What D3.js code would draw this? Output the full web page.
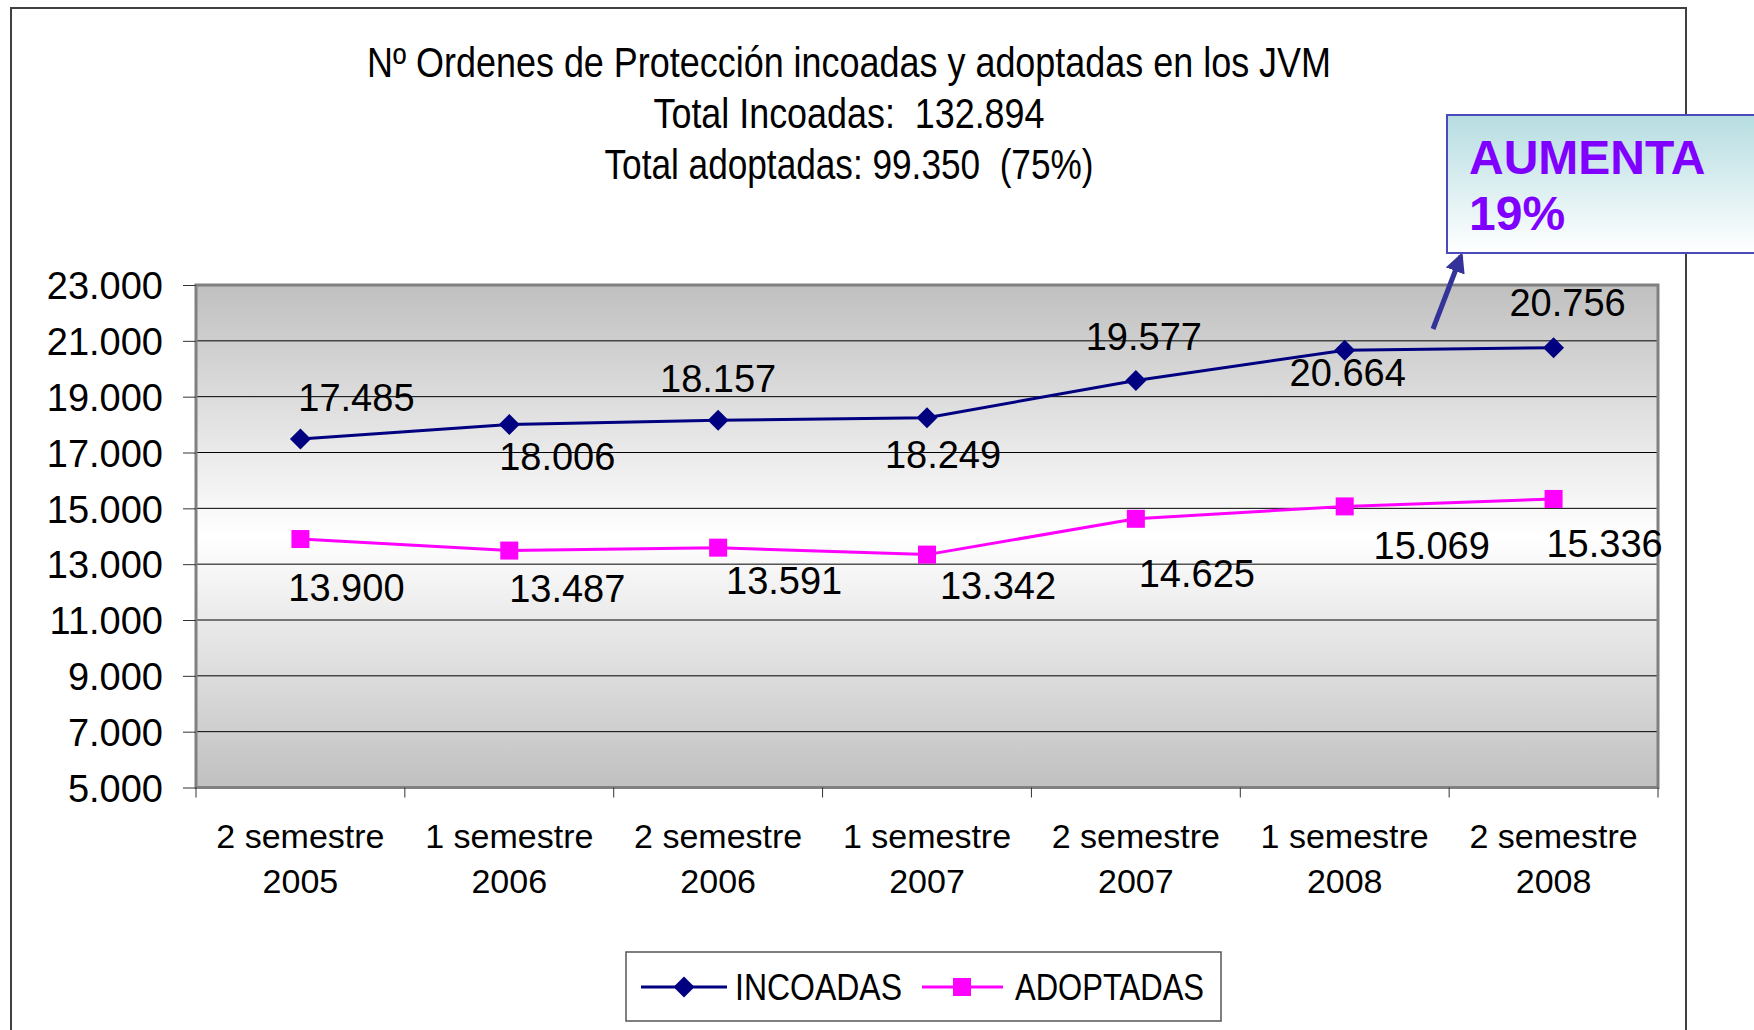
<!DOCTYPE html>
<html>
<head>
<meta charset="utf-8">
<script src="https://cdnjs.cloudflare.com/ajax/libs/d3/7.8.5/d3.min.js"></script>
<style>
  body { margin: 0; background: #fff; overflow: hidden; }
  text { font-family: "Liberation Sans", Arial, sans-serif; }
  .narrow { font-family: "Liberation Sans Narrow", "Arial Narrow", "Liberation Sans", sans-serif; white-space: pre; }
</style>
</head>
<body>
<div id="chart"></div>
<script>
// Chart data
var semesters = ["2 semestre", "1 semestre", "2 semestre", "1 semestre", "2 semestre", "1 semestre", "2 semestre"];
var years = ["2005", "2006", "2006", "2007", "2007", "2008", "2008"];
var incoadas = [17485, 18006, 18157, 18249, 19577, 20664, 20756];
var adoptadas = [13900, 13487, 13591, 13342, 14625, 15069, 15336];
var yTicks = [5000, 7000, 9000, 11000, 13000, 15000, 17000, 19000, 21000, 23000];
var titleLines = [
  "Nº Ordenes de Protección incoadas y adoptadas en los JVM",
  "Total Incoadas:  132.894",
  "Total adoptadas: 99.350  (75%)"
];

var W = 1754, H = 1030;
var plot = { left: 196, right: 1658, top: 285, bottom: 787.5 };

// spanish number format 23.000
var es = d3.formatLocale({ decimal: ",", thousands: ".", grouping: [3], currency: ["", "€"] });
var fmt = es.format(",");

var svg = d3.select("#chart").append("svg")
  .attr("width", W)
  .attr("height", H);

var defs = svg.append("defs");
var bg = defs.append("linearGradient").attr("id", "plotBg")
  .attr("x1", 0).attr("y1", 0).attr("x2", 0).attr("y2", 1);
bg.append("stop").attr("offset", "0%").attr("stop-color", "#c0c0c0");
bg.append("stop").attr("offset", "50%").attr("stop-color", "#ffffff");
bg.append("stop").attr("offset", "100%").attr("stop-color", "#c0c0c0");

var boxBg = defs.append("linearGradient").attr("id", "boxBg")
  .attr("x1", 0).attr("y1", 0).attr("x2", 0).attr("y2", 1);
boxBg.append("stop").attr("offset", "0%").attr("stop-color", "#b6dde1");
boxBg.append("stop").attr("offset", "100%").attr("stop-color", "#ffffff");

defs.append("marker").attr("id", "arrowHead")
  .attr("viewBox", "0 0 10 10").attr("refX", 8).attr("refY", 5)
  .attr("markerWidth", 4).attr("markerHeight", 4)
  .attr("orient", "auto")
  .append("path").attr("d", "M0,0 L10,5 L0,10 z").attr("fill", "#333399");

// chart frame
svg.append("rect")
  .attr("x", 11).attr("y", 8)
  .attr("width", 1675).attr("height", 1100)
  .attr("fill", "none").attr("stroke", "#404040").attr("stroke-width", 2);

// title
svg.append("g").selectAll("text")
  .data(titleLines)
  .enter().append("text")
  .attr("class", "narrow")
  .attr("x", 849)
  .attr("y", (d, i) => 62 + i * 51)
  .attr("text-anchor", "middle")
  .attr("dominant-baseline", "central")
  .attr("font-size", 42)
  .attr("textLength", (d, i) => [964, 391, 489][i])
  .attr("lengthAdjust", "spacingAndGlyphs")
  .text(d => d);

// scales
var x = d3.scaleBand()
  .domain(d3.range(incoadas.length))
  .range([plot.left, plot.right]);
var y = d3.scaleLinear()
  .domain([5000, 23000])
  .range([plot.bottom, plot.top]);
var cx = i => x(i) + x.bandwidth() / 2;

// plot background
svg.append("rect")
  .attr("x", plot.left).attr("y", plot.top)
  .attr("width", plot.right - plot.left).attr("height", plot.bottom - plot.top)
  .attr("fill", "url(#plotBg)");

// gridlines
svg.append("g").selectAll("line")
  .data(yTicks.slice(1, -1))
  .enter().append("line")
  .attr("x1", plot.left).attr("x2", plot.right)
  .attr("y1", d => y(d)).attr("y2", d => y(d))
  .attr("stroke", "#000").attr("stroke-width", 1);

// plot border
svg.append("rect")
  .attr("x", plot.left).attr("y", plot.top)
  .attr("width", plot.right - plot.left).attr("height", plot.bottom - plot.top)
  .attr("fill", "none").attr("stroke", "#808080").attr("stroke-width", 3);

// y axis
var yAxis = svg.append("g")
  .attr("transform", "translate(" + plot.left + ",0)")
  .call(d3.axisLeft(y).tickValues(yTicks).tickFormat(fmt).tickSize(13).tickPadding(20));
yAxis.select(".domain").remove();
yAxis.selectAll("line").attr("stroke", "#333");
yAxis.selectAll("text")
  .attr("font-size", 38)
  .attr("fill", "#000")
  .attr("font-family", "Liberation Sans, Arial, sans-serif")
  .attr("dy", "0.36em");

// x axis ticks at band edges
svg.append("g").selectAll("line")
  .data(d3.range(incoadas.length + 1))
  .enter().append("line")
  .attr("x1", i => plot.left + i * x.step())
  .attr("x2", i => plot.left + i * x.step())
  .attr("y1", plot.bottom).attr("y2", plot.bottom + 10)
  .attr("stroke", "#333");

var xl = svg.append("g").selectAll("text")
  .data(d3.range(incoadas.length))
  .enter().append("text")
  .attr("x", cx)
  .attr("text-anchor", "middle")
  .attr("font-size", 34);
xl.append("tspan").attr("x", cx).attr("y", 836).attr("dominant-baseline", "central").text(i => semesters[i]);
xl.append("tspan").attr("x", cx).attr("y", 881).attr("dominant-baseline", "central").text(i => years[i]);

// lines
var lineInc = d3.line().x((d, i) => cx(i)).y(d => y(d));
svg.append("path")
  .datum(incoadas)
  .attr("d", lineInc)
  .attr("fill", "none").attr("stroke", "#000080").attr("stroke-width", 3);
svg.append("path")
  .datum(adoptadas)
  .attr("d", lineInc)
  .attr("fill", "none").attr("stroke", "#ff00ff").attr("stroke-width", 3);

var diamond = "M0,-10.5 L10.5,0 L0,10.5 L-10.5,0 Z";
svg.append("g").selectAll("path")
  .data(incoadas)
  .enter().append("path")
  .attr("d", diamond)
  .attr("transform", (d, i) => "translate(" + cx(i) + "," + y(d) + ")")
  .attr("fill", "#000080");

svg.append("g").selectAll("rect")
  .data(adoptadas)
  .enter().append("rect")
  .attr("x", (d, i) => cx(i) - 9).attr("y", d => y(d) - 9)
  .attr("width", 18).attr("height", 18)
  .attr("fill", "#ff00ff");

// data labels, offsets from the point as placed in the original
var incOffsets = [[56, -41], [48, 33], [0, -41], [16, 37], [8, -44], [3, 23], [14, -45]];
var adoOffsets = [[46, 49], [58, 38], [66, 33], [71, 31], [61, 55], [87, 40], [51, 45]];

function labels(vals, offs) {
  svg.append("g").selectAll("text")
    .data(vals)
    .enter().append("text")
    .attr("x", (d, i) => cx(i) + offs[i][0])
    .attr("y", (d, i) => y(d) + offs[i][1])
    .attr("text-anchor", "middle")
    .attr("dominant-baseline", "central")
    .attr("font-size", 38)
    .text(d => fmt(d));
}
labels(incoadas, incOffsets);
labels(adoptadas, adoOffsets);

// legend
var lg = svg.append("g");
lg.append("rect")
  .attr("x", 626).attr("y", 952).attr("width", 595).attr("height", 69)
  .attr("fill", "#fff").attr("stroke", "#555").attr("stroke-width", 1.5);
lg.append("line").attr("x1", 641).attr("x2", 727).attr("y1", 987).attr("y2", 987)
  .attr("stroke", "#000080").attr("stroke-width", 3);
lg.append("path").attr("d", diamond).attr("transform", "translate(684,987)").attr("fill", "#000080");
lg.append("text").attr("class", "narrow")
  .attr("x", 735).attr("y", 987).attr("dominant-baseline", "central")
  .attr("font-size", 37).attr("textLength", 167).attr("lengthAdjust", "spacingAndGlyphs")
  .text("INCOADAS");
lg.append("line").attr("x1", 922).attr("x2", 1003).attr("y1", 987).attr("y2", 987)
  .attr("stroke", "#ff00ff").attr("stroke-width", 3);
lg.append("rect").attr("x", 953).attr("y", 978).attr("width", 18).attr("height", 18).attr("fill", "#ff00ff");
lg.append("text").attr("class", "narrow")
  .attr("x", 1015).attr("y", 987).attr("dominant-baseline", "central")
  .attr("font-size", 37).attr("textLength", 189).attr("lengthAdjust", "spacingAndGlyphs")
  .text("ADOPTADAS");

// callout
svg.append("line")
  .attr("x1", 1433).attr("y1", 329).attr("x2", 1461).attr("y2", 256)
  .attr("stroke", "#333399").attr("stroke-width", 5)
  .attr("marker-end", "url(#arrowHead)");
svg.append("rect")
  .attr("x", 1447).attr("y", 115).attr("width", 330).attr("height", 138)
  .attr("fill", "url(#boxBg)").attr("stroke", "#4a4ab8").attr("stroke-width", 2);
svg.append("text")
  .attr("x", 1469).attr("y", 157).attr("dominant-baseline", "central")
  .attr("font-size", 48).attr("font-weight", "bold").attr("fill", "#8000ff")
  .text("AUMENTA");
svg.append("text")
  .attr("x", 1469).attr("y", 213).attr("dominant-baseline", "central")
  .attr("font-size", 48).attr("font-weight", "bold").attr("fill", "#8000ff")
  .text("19%");
</script>
</body>
</html>
